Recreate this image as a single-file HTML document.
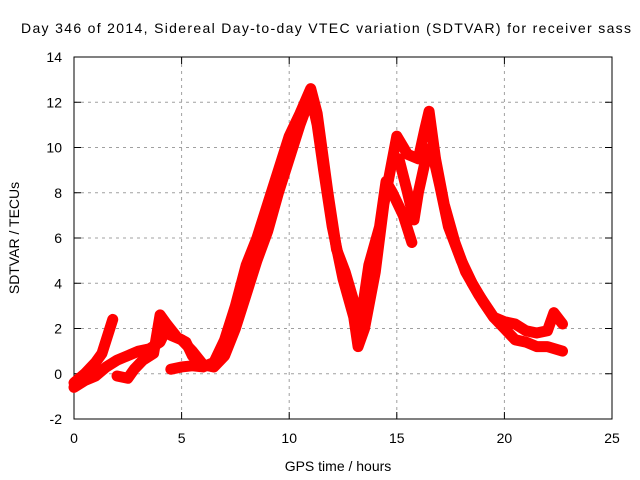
<!DOCTYPE html>
<html><head><meta charset="utf-8"><style>body{margin:0;background:#fff}svg{display:block;font-family:"Liberation Sans",sans-serif}</style></head>
<body>
<svg id="c" width="640" height="480">
<text x="326" y="33" font-size="14" text-anchor="middle" textLength="610">Day 346 of 2014, Sidereal Day-to-day VTEC variation (SDTVAR) for receiver sass</text>
<g id="grid"></g><g id="axes"></g><g id="marks"></g>
<text x="338" y="471" font-size="14" text-anchor="middle">GPS time / hours</text>
<text transform="translate(19,238) rotate(-90)" font-size="14" text-anchor="middle">SDTVAR / TECUs</text>
</svg>
<script>
const xTicks=[0,5,10,15,20,25];
const yTicks=[-2,0,2,4,6,8,10,12,14];
const traceA=[[0,-0.6],[0.5,-0.3],[1,-0.1],[1.5,0.3],[2,0.6],[2.5,0.8],[3,1.0],[3.5,1.1],[4,1.4],[4.3,2.0],[4.5,1.7],[5,1.5],[5.5,1.0],[6,0.4],[6.5,0.3],[7,0.8],[7.5,2],[8,3.5],[8.5,5],[9,6.3],[9.5,8],[10,9.5],[10.5,11],[11,12.3],[11.3,11],[11.6,9],[12,6.5],[12.5,4.2],[13,2.5],[13.2,1.2],[13.5,2.0],[14,4.5],[14.4,7.5],[14.8,9.5],[15,10.5],[15.5,9.7],[16,9.5],[16.3,10.8],[16.5,11.6],[16.8,9.5],[17.2,7.5],[17.7,5.8],[18.2,4.5],[18.8,3.5],[19.5,2.5],[20,2.0],[20.5,1.5],[21,1.4],[21.5,1.2],[22,1.2],[22.7,1.0]];
const traceB=[[0,-0.4],[0.5,0.0],[1,0.5],[1.3,0.9],[1.6,1.8],[1.8,2.4]];
const traceC=[[2,-0.1],[2.5,-0.2],[2.8,0.2],[3.2,0.6],[3.7,0.9],[4,2.6],[4.3,2.2],[4.8,1.6],[5.2,1.4],[5.5,0.8],[5.8,0.5]];
const traceD=[[4.5,0.2],[5,0.3],[5.5,0.35],[6,0.3],[6.5,0.5],[7,1.5],[7.5,3],[8,4.8],[8.5,6],[9,7.5],[9.5,9],[10,10.5],[10.5,11.5],[11,12.6],[11.3,11.5],[11.8,8],[12.2,5.5],[12.6,4.5],[13,3.2],[13.3,2.2],[13.7,4.8],[14.2,6.5],[14.5,8.5],[14.8,8],[15.3,7],[15.7,5.8]];
const traceE=[[15.1,9.5],[15.5,8],[15.8,6.8],[16,8],[16.3,9.3],[16.6,10],[17,8.3],[17.4,6.5],[18,5],[18.5,4],[19,3.2],[19.5,2.5],[20,2.3],[20.5,2.2],[21,1.9],[21.5,1.8],[22,1.9],[22.3,2.7],[22.7,2.2]];
const traces=[traceA,traceB,traceC,traceD,traceE];
const X=t=>74+t*(538/25), Y=v=>373.75-v*(362/16);
const NS='http://www.w3.org/2000/svg';
function mk(tag,attrs,parent){const e=document.createElementNS(NS,tag);for(const k in attrs)e.setAttribute(k,attrs[k]);parent.appendChild(e);return e;}
const grid=document.getElementById('grid'),axes=document.getElementById('axes'),marks=document.getElementById('marks');
mk('rect',{x:74,y:57,width:538,height:362,fill:'none',stroke:'#000','stroke-width':1},axes);
xTicks.forEach(t=>{const x=X(t);
 if(t>0&&t<25){const g=mk('line',{x1:x,y1:57,x2:x,y2:419,stroke:'#a0a0a0','stroke-dasharray':'3,4'},grid);
 
 }
 mk('line',{x1:x,y1:419,x2:x,y2:412,stroke:'#000'},axes);mk('line',{x1:x,y1:57,x2:x,y2:64,stroke:'#000'},axes);
 const l=mk('text',{x:x,y:443,'font-size':14,'text-anchor':'middle'},axes);l.textContent=t;
 
 });
yTicks.forEach(v=>{const y=Y(v);
 if(v>-2&&v<14){const g=mk('line',{x1:74,y1:y,x2:612,y2:y,stroke:'#a0a0a0','stroke-dasharray':'3,4'},grid);
 
 }
 mk('line',{x1:74,y1:y,x2:81,y2:y,stroke:'#000'},axes);mk('line',{x1:612,y1:y,x2:605,y2:y,stroke:'#000'},axes);
 const l=mk('text',{x:62,y:y+5,'font-size':14,'text-anchor':'end'},axes);l.textContent=v;
 
 });
traces.forEach((tr,i)=>{
 const pl=mk('polyline',{points:tr.map(p=>X(p[0])+','+Y(p[1])).join(' '),fill:'none',stroke:'#f00','stroke-width':11,'stroke-linejoin':'round','stroke-linecap':'round'},marks);
 
 
 tr.forEach(p=>{const x=X(p[0]),y=Y(p[1]);
  const m=mk('path',{d:`M${x-4},${y}h8M${x},${y-4}v8`,stroke:'#f00','stroke-width':1.5},marks);
  
  });
});
</script>
</body></html>
